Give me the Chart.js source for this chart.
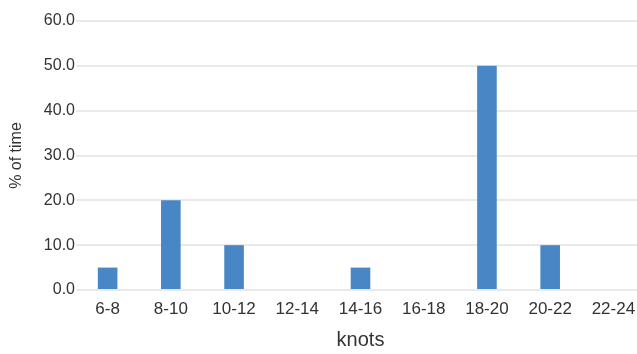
<!DOCTYPE html>
<html>
<head>
<meta charset="utf-8">
<script src="https://cdn.jsdelivr.net/npm/chart.js@4/dist/chart.umd.min.js"></script>
<style>
  html, body { margin: 0; padding: 0; background: #fff; overflow: hidden; }
  #wrap { width: 637px; height: 354px; overflow: hidden; }
  #box { width: 645px; height: 354px; }
</style>
</head>
<body>
<div id="wrap"><div id="box"><canvas id="c" width="645" height="354"></canvas></div></div>
<script>
// Wind speed distribution
const knotBands = ['6-8', '8-10', '10-12', '12-14', '14-16', '16-18', '18-20', '20-22', '22-24'];
const percentOfTime = [5, 20, 10, 0, 5, 0, 50, 10, 0];
const yTicks = [0, 10, 20, 30, 40, 50, 60];

const fontFamily = '"Liberation Sans", Arial, Helvetica, sans-serif';
const textColor = '#333333';

new Chart(document.getElementById('c'), {
  type: 'bar',
  data: {
    labels: knotBands,
    datasets: [{
      data: percentOfTime,
      backgroundColor: '#4886c5',
      borderWidth: 0,
      barPercentage: 0.31,
      categoryPercentage: 1.0
    }]
  },
  options: {
    responsive: false,
    animation: false,
    events: [],
    layout: { padding: { top: 21, right: 0, bottom: 0, left: 0 } },
    plugins: { legend: { display: false }, tooltip: { enabled: false } },
    scales: {
      x: {
        grid: { display: false, drawTicks: false },
        border: { display: false },
        ticks: {
          color: textColor,
          font: { family: fontFamily, size: 17 },
          padding: 9,
          maxRotation: 0,
          autoSkip: false
        },
        title: {
          display: true,
          text: 'knots',
          color: textColor,
          font: { family: fontFamily, size: 20 },
          padding: { top: 2, bottom: 2 }
        },
        afterFit: (scale) => { scale.height = 64; }
      },
      y: {
        min: yTicks[0],
        max: yTicks[yTicks.length - 1],
        afterBuildTicks: (scale) => { scale.ticks = yTicks.map(v => ({ value: v })); },
        grid: { color: '#e9e9e9', lineWidth: 2, drawTicks: false },
        border: { display: false },
        ticks: {
          color: textColor,
          font: { family: fontFamily, size: 16 },
          padding: 1,
          callback: (v) => Number(v).toFixed(1)
        },
        title: {
          display: true,
          text: '% of time',
          color: textColor,
          font: { family: fontFamily, size: 16 },
          padding: { top: 7, bottom: 0 }
        },
        afterFit: (scale) => { scale.width = 76; }
      }
    }
  }
});
</script>
</body>
</html>
